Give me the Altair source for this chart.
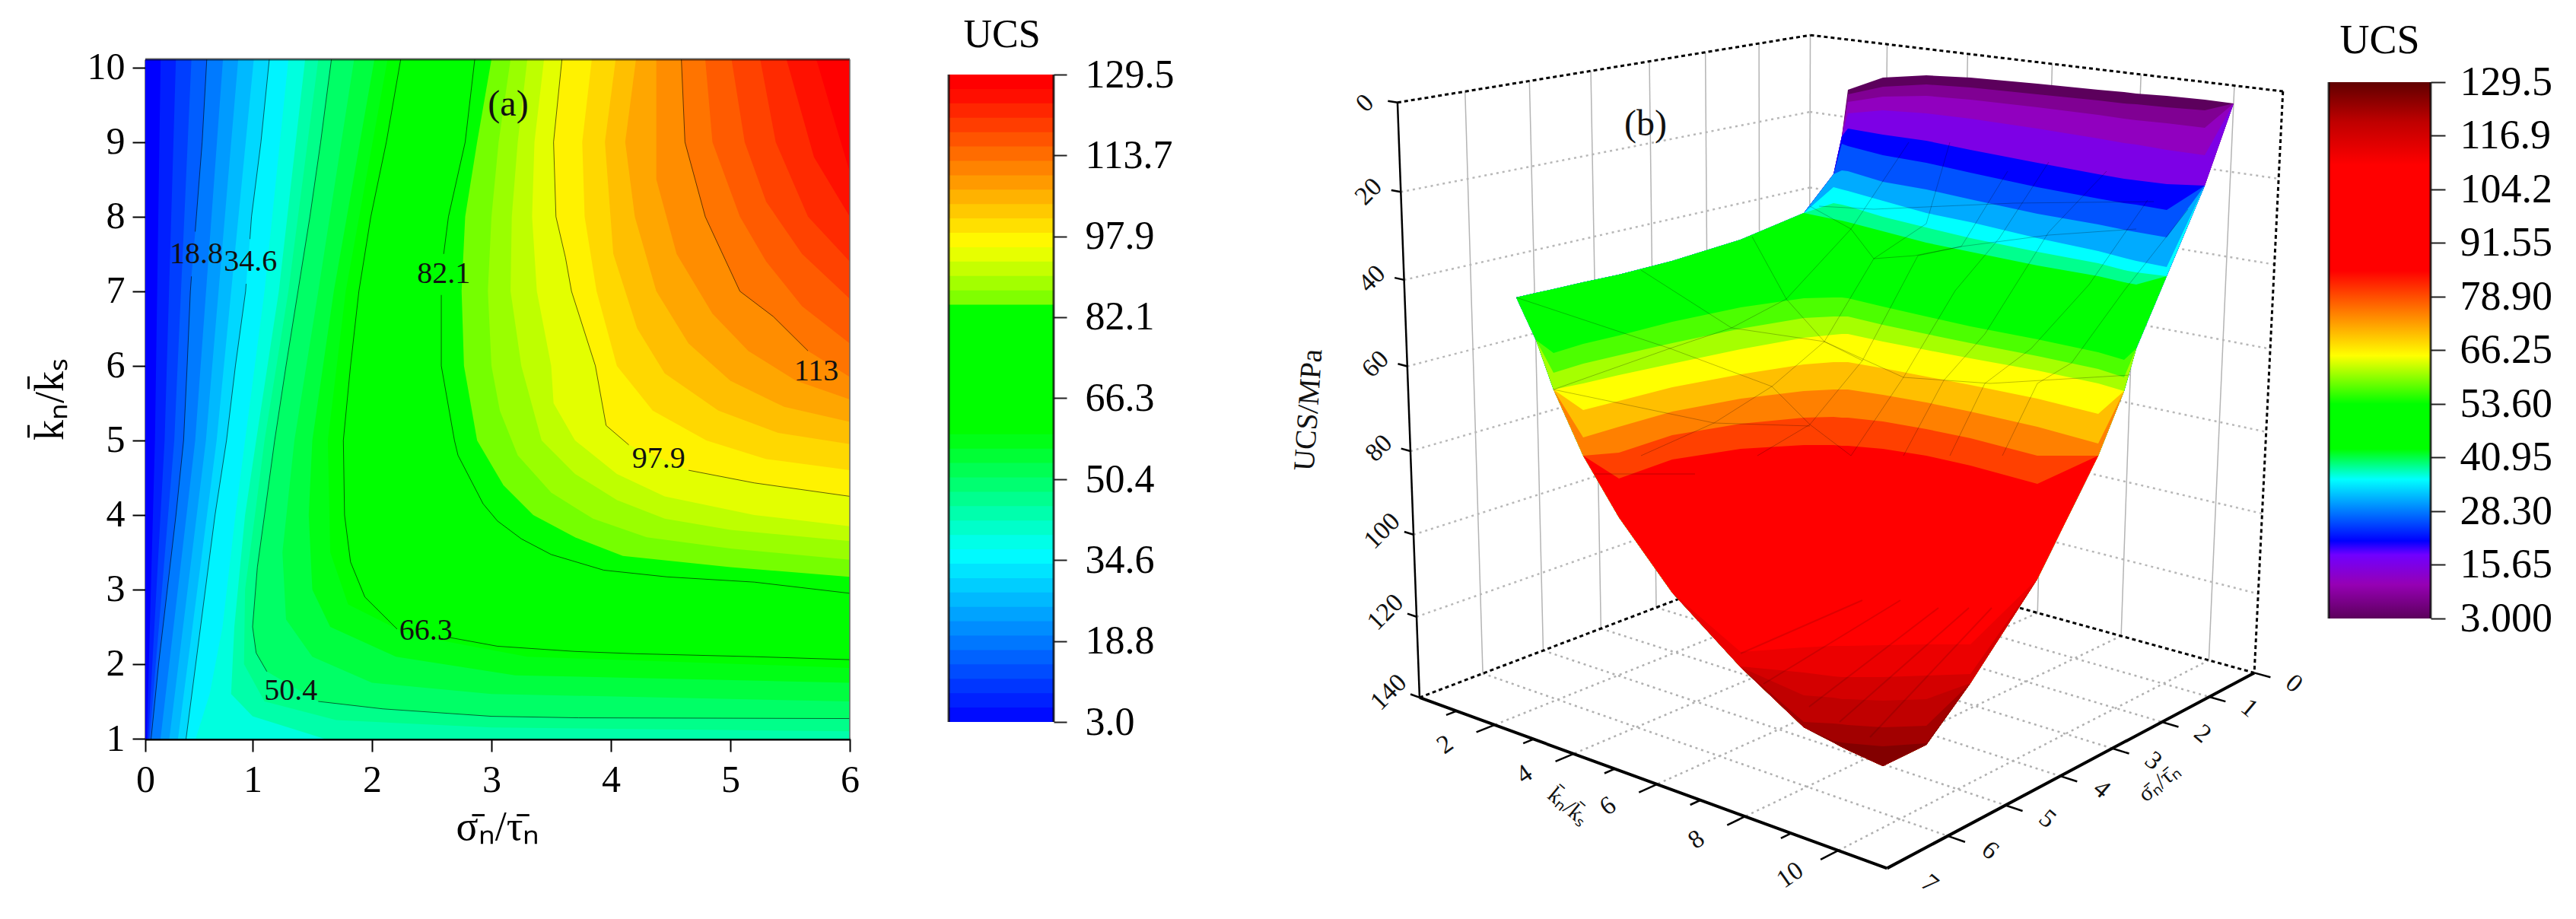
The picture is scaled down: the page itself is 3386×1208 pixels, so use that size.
import numpy as np
import pandas as pd
import altair as alt

SERIF = "Liberation Serif"

# ---------- panel (a): iso-UCS curves, (k ratio, sigma ratio)
ISO_A = {
    3.0: [(1, 0), (10.11, 0)],
    7: [(1, .014), (5, .09), (10.11, .143)],
    11: [(1, .027), (5, .18), (10.11, .285)],
    15: [(1, .04), (5, .27), (10.11, .43)],
    18.8: [(1, .054), (2, .124), (3, .205), (4, .286), (5, .357), (6, .39), (7, .42), (7.2, .43), (7.8, .465), (8, .476), (9, .53), (10.11, .573)],
    23: [(1, .142), (5, .465), (10.11, .724)],
    27: [(1, .224), (5, .565), (10.11, .866)],
    31: [(1, .305), (5, .665), (10.11, 1.01)],
    34.6: [(1, .38), (2, .47), (3, .56), (4, .65), (5, .757), (6, .84), (7, .935), (7.1, .94), (7.7, .975), (8, .99), (9, 1.07), (10.11, 1.14)],
    39: [(1, .47), (1.6, .6), (2.5, .72), (4, .84), (5, .93), (7, 1.1), (10.11, 1.3)],
    44: [(1, 1.6), (1.3, 1.0), (1.6, .8), (2.5, .83), (4, .93), (5, 1.03), (7, 1.22), (10.11, 1.44)],
    47: [(1.1, 6), (1.15, 3), (1.25, 1.7), (1.5, 1.1), (2, .92), (3, .93), (4, 1.02), (5, 1.1), (7, 1.3), (10.11, 1.55)],
    50.4: [(1.27, 6), (1.28, 3.73), (1.3, 3), (1.4, 2.09), (1.5, 1.55), (1.9, 1.12), (2.15, 1.03), (2.5, 1.0), (3.3, 1.04), (4, 1.1), (5, 1.185), (6, 1.28), (7, 1.38), (8, 1.48), (9, 1.57), (10.11, 1.66)],
    54: [(1.5, 6), (1.6, 3), (1.75, 2), (2.1, 1.5), (2.6, 1.28), (3.5, 1.25), (5, 1.35), (7, 1.55), (10.11, 1.85)],
    58: [(1.75, 6), (1.85, 3.2), (2.1, 2.2), (2.5, 1.65), (3, 1.5), (4, 1.47), (5, 1.5), (7, 1.68), (10.11, 2.02)],
    62: [(1.95, 6), (2.1, 3.3), (2.4, 2.3), (2.8, 1.8), (3.5, 1.65), (5, 1.63), (7, 1.78), (10.11, 2.13)],
    66.3: [(2.06, 6), (2.10, 5.2), (2.14, 4.2), (2.17, 3.7), (2.24, 3.05), (2.36, 2.64), (2.47, 2.21), (2.9, 1.94), (3.37, 1.82), (4, 1.77), (5, 1.76), (6, 1.82), (7, 1.89), (8, 1.99), (9, 2.12), (10.11, 2.24)],
    82.1: [(2.95, 6), (3.1, 5.2), (3.17, 4.47), (3.26, 3.94), (3.47, 3.5), (3.68, 3.25), (3.92, 3.05), (4.15, 2.93), (4.8, 2.72), (5.0, 2.69), (6, 2.58), (6.95, 2.58), (7.5, 2.6), (8, 2.64), (9, 2.78), (10.11, 2.86)],
    85: [(3.17, 6), (3.3, 5), (3.45, 4.1), (3.7, 3.7), (4, 3.35), (4.4, 3.1), (5, 2.88), (6, 2.77), (7, 2.75), (8, 2.78), (9, 2.88), (10.11, 3.0)],
    88: [(3.4, 6), (3.55, 5), (3.7, 4.3), (3.95, 3.85), (4.3, 3.5), (4.8, 3.22), (5.4, 3.07), (6, 3.0), (7, 2.97), (8, 3.0), (9, 3.06), (10.11, 3.16)],
    91: [(3.65, 6), (3.8, 5), (3.95, 4.45), (4.2, 4.05), (4.55, 3.7), (5, 3.42), (6, 3.25), (7, 3.16), (8, 3.17), (9, 3.22), (10.11, 3.3)],
    94: [(3.85, 6), (4.0, 5.2), (4.25, 4.45), (4.55, 4.05), (5, 3.7), (5.5, 3.52), (6, 3.5), (7, 3.38), (8, 3.34), (9, 3.36), (10.11, 3.44)],
    97.9: [(4.25, 6), (4.43, 5.2), (4.6, 4.65), (4.94, 4.15), (5.2, 3.96), (6, 3.87), (7, 3.67), (7.45, 3.62), (8, 3.54), (9, 3.52), (10.11, 3.59)],
    101: [(4.6, 6), (4.75, 5.3), (5, 4.8), (5.4, 4.35), (6, 4.05), (7, 3.88), (8, 3.78), (9, 3.76), (10.11, 3.84)],
    104: [(4.95, 6), (5.1, 5.4), (5.4, 4.9), (5.9, 4.45), (6.5, 4.22), (7.5, 4.02), (9, 3.95), (10.11, 4.04)],
    107: [(5.25, 6), (5.45, 5.45), (5.8, 5.0), (6.3, 4.65), (7, 4.38), (8, 4.2), (9, 4.12), (10.11, 4.21)],
    110: [(5.55, 6), (5.8, 5.55), (6.2, 5.15), (6.7, 4.85), (7.5, 4.55), (8.5, 4.38), (10.11, 4.38)],
    113: [(5.85, 6), (6.2, 5.65), (6.66, 5.36), (7, 5.08), (8, 4.79), (9, 4.62), (10.11, 4.59)],
    116: [(6.3, 6), (6.8, 5.6), (7.4, 5.3), (8, 5.08), (9, 4.85), (10.11, 4.79)],
    119: [(6.9, 6), (7.5, 5.6), (8.2, 5.3), (9, 5.12), (10.11, 5.01)],
    122: [(7.4, 6), (8, 5.65), (9, 5.38), (10.11, 5.25)],
    125: [(8, 6), (8.8, 5.7), (10.11, 5.47)],
    127: [(8.6, 6), (9.4, 5.85), (10.11, 5.72)],
}
# contour lines that are drawn, with the k-range hidden behind their label
LINES_A = {18.8: (7.2, 7.8), 34.6: (7.1, 7.7), 50.4: (1.5, 1.9), 66.3: (2.36, 2.47), 82.1: (6.95, 7.5), 97.9: (4.6, 4.94), 113: (5.85, 6.2)}
LABELS_A = [("18.8", .476, 7.5), ("34.6", .98, 7.4), ("82.1", 2.6, 7.23), ("113", 5.72, 5.93),
            ("97.9", 4.4, 4.75), ("66.3", 2.45, 2.45), ("50.4", 1.32, 1.64)]
STOPS_A = [3, 36, 60, 84.4, 84.6, 96.3, 127, 129.5]
COLS_A = ["#0000ff", "#00ffff", "#00ff00", "#00ff00", "#70ff00", "#ffff00", "#ff0000", "#ff0000"]
TICKS_A = [3.0, 18.8, 34.6, 50.4, 66.3, 82.1, 97.9, 113.7, 129.5]

# ---------- panel (b): picture-plane columns and the surface outline above/below them
VX = [1995, 2021, 2044, 2083, 2130, 2200, 2290, 2373, 2412, 2423, 2431, 2477, 2534, 2592, 2680, 2760, 2794, 2810, 2850, 2900, 2938]
OUT_TOP = [392, 386, 381, 372, 362, 344, 316, 281, 230, 180, 119, 103, 100, 103, 111, 119, 122, 124, 127, 132, 137]
OUT_BOT = [392, 448, 513, 600, 681, 780, 878, 957, 977, 983, 987, 1008, 980, 899, 762, 600, 515, 459, 364, 245, 137]
F = 50   # above the surface
B = 1100  # below the surface
ISO_B = {
    3: [F] * 21,
    8: [F] * 10 + [125, 115, 112, 116, 125, 133, 137, 138, 142, 146, 150],
    12: [F] * 10 + [135, 128, 127, 132, 142, 152, 157, 159, 163, 169, 175],
    15.65: [F] * 10 + [150, 146, 150, 157, 170, 183, 189, 191, 198, 205, 213],
    21.3: [F] * 10 + [170, 178, 186, 198, 215, 230, 236, 238, 243, 249, 258],
    26: [F] * 9 + [190, 193, 205, 215, 228, 247, 262, 268, 270, 277, 285, 292],
    31: [F] * 8 + [222, 225, 226, 240, 250, 263, 282, 296, 303, 306, 313, 322, 330],
    35.8: [F] * 7 + [240, 247, 250, 252, 265, 281, 293, 314, 331, 340, 344, 352, 362, 375],
    39: [F] * 7 + [262, 268, 270, 272, 286, 300, 314, 332, 347, 356, 359, 367, 378, 390],
    43: [F] * 6 + [260, 281, 289, 291, 293, 305, 320, 332, 350, 364, 372, 375, 382, 390, 400],
    53.6: [455, 446, 438, 428, 417, 397, 378, 367, 367, 368, 369, 381, 396, 410, 429, 447, 455, 459, 470, 480, 490],
    57: [482, 472, 465, 453, 442, 424, 405, 393, 392, 392, 393, 404, 417, 430, 447, 464, 474, 478, 488, 498, 510],
    61: [510, 498, 491, 479, 468, 452, 433, 419, 417, 417, 417, 428, 440, 452, 469, 486, 497, 501, 510, 520, 530],
    65: [535, 525, 517, 505, 494, 479, 460, 445, 441, 440, 440, 450, 461, 472, 488, 505, 515, 520, 530, 540, 550],
    70: [575, 565, 556, 540, 528, 510, 493, 480, 477, 477, 477, 485, 496, 507, 525, 545, 556, 562, 572, 585, 598],
    75: [610, 600, 593, 576, 562, 542, 525, 515, 513, 513, 513, 520, 530, 542, 562, 584, 597, 603, 615, 630, 645],
    80: [650, 640, 632, 610, 596, 573, 558, 550, 549, 550, 550, 555, 565, 577, 600, 624, 638, 645, 657, 675, 690],
    85: [690, 680, 670, 645, 630, 605, 591, 586, 586, 587, 587, 591, 600, 613, 637, 664, 680, 688, 700, 720, 740],
    110: [B] * 5 + [845, 832, 822, 818, 817, 817, 815, 814, 815, 820, 830] + [B] * 5,
    113: [B] * 5 + [880, 858, 852, 850, 850, 850, 849, 848, 848, 855, 870] + [B] * 5,
    116.9: [B] * 5 + [900, 877, 885, 890, 891, 891, 891, 889, 887, 885] + [B] * 6,
    120: [B] * 6 + [910, 915, 918, 920, 920, 922, 920, 915] + [B] * 7,
    123: [B] * 7 + [950, 952, 953, 954, 957, 955, 950] + [B] * 7,
    126: [B] * 8 + [975, 977, 978, 982, 978, 970] + [B] * 7,
}
MESH = [
    [(2511, 188), (2435, 302), (2350, 394), (2278, 432), (2197, 459), (2044, 513)],
    [(2565, 188), (2534, 295), (2465, 341), (2400, 450), (2331, 509), (2255, 557), (2159, 600)],
    [(2641, 226), (2580, 325), (2523, 337), (2450, 475), (2381, 559), (2312, 600)],
    [(2695, 214), (2630, 314), (2572, 383), (2504, 497), (2435, 600)],
    [(2771, 226), (2695, 306), (2611, 440), (2557, 501), (2504, 600)],
    [(2825, 264), (2748, 375), (2672, 459), (2611, 505), (2565, 600)],
    [(2878, 276), (2794, 383), (2725, 478), (2680, 505), (2634, 600)],
    [(1995, 392), (2197, 459), (2331, 509), (2381, 559), (2435, 600)],
    [(2159, 356), (2278, 432), (2400, 450), (2504, 497), (2618, 505), (2802, 494)],
    [(2305, 312), (2350, 394), (2400, 450), (2450, 475)],
    [(2381, 272), (2435, 302), (2465, 341), (2519, 337), (2580, 325), (2695, 310), (2810, 302)],
    [(2393, 272), (2465, 276), (2649, 268), (2833, 266)],
    [(2044, 513), (2255, 557), (2381, 561)],
    [(2098, 624), (2230, 624)],
]
STREAKS = [[(2590, 800), (2420, 950)], [(2620, 800), (2460, 970)], [(2550, 800), (2380, 930)],
           [(2500, 790), (2320, 900)], [(2450, 790), (2290, 860)]]
STOPS_B = [3, 11, 18, 21.3, 35.8, 43, 53.6, 65, 85, 110, 120, 129.5]
COLS_B = ["#5c005c", "#9600b4", "#7000ff", "#0000ff", "#00ffff", "#00ff00", "#00ff00", "#ffff00",
          "#ff0000", "#ff0000", "#c00000", "#600000"]
TICKS_B = [3.0, 15.65, 28.3, 40.95, 53.6, 66.25, 78.9, 91.55, 104.2, 116.9, 129.5]

# box corners: (sigma, k, UCS) and where they sit on the picture plane
BOX = [((7, 0, 0), (1838, 135)), ((0, 0, 0), (2383, 47)), ((0, 11, 0), (3002, 122)),
       ((7, 0, 140), (1870, 918)), ((0, 0, 140), (2377, 724)), ((0, 11, 140), (2967, 884)),
       ((7, 11, 140), (2481, 1143))]

W_A, H = 926, 893
W_B = 1416
W_C1, W_C2 = 138, 134

rows = []
for M, (s, v) in enumerate(BOX):
    X = [*s, 1]
    rows.append([*X, 0, 0, 0, 0, *[-v[0] * c for c in X]])
    rows.append([0, 0, 0, 0, *X, *[-v[1] * c for c in X]])
A_ = np.array(rows, float)
_, _, Vh = np.linalg.svd(A_ / np.abs(A_).max(axis=0, keepdims=True))
P = (Vh[-1] / np.abs(A_).max(axis=0)).reshape(3, 4)


def proj(s, k, z):
    h = P @ np.array([s, k, z, 1.0])
    return h[0] / h[2], h[1] / h[2]


def cmap(stops, cols, v):
    rgb = [[int(c[i:i + 2], 16) for i in (1, 3, 5)] for c in cols]
    return "#" + "".join(f"{int(round(np.interp(v, stops, [r[j] for r in rgb]))):02x}" for j in range(3))


# ------ scales
xa = alt.Scale(domain=[0, 1, 6], range=[0, 141, W_A])
ya = alt.Scale(domain=[1, 10.11], range=[H, 0])
vx = alt.Scale(domain=[1517, 1517 + W_B], range=[0, W_B])
vy = alt.Scale(domain=[79, 79 + H], range=[0, H])

# ------ panel (a)
band_rows = []
for lev, pts in ISO_A.items():
    for k, s in pts:
        band_rows.append(dict(name=f"{lev:08.2f}", hex=cmap(STOPS_A, COLS_A, lev), k=k, s=s, right=6))
bands = pd.DataFrame(band_rows)

line_rows = []
for lev, (lo, hi) in LINES_A.items():
    i = 0
    for k, s in ISO_A[lev]:
        if lo < k < hi:
            continue
        seg_name = "up" if k >= hi else "low"
        line_rows.append(dict(group=f"{lev}{seg_name}", k=k, s=s, i=i))
        i += 1
lines_a = pd.DataFrame(line_rows)

ax_common = dict(labelFont=SERIF, titleFont=SERIF, labelColor="black", titleColor="black", grid=False,
                 tickColor="black", domainColor="black", titleFontWeight="normal", labelFontSize=50,
                 titleFontSize=54, tickSize=17, tickWidth=2, format="d")
a_band = alt.Chart(bands).mark_area(orient="horizontal").encode(
    y=alt.Y("k:Q", scale=ya, axis=alt.Axis(values=list(range(1, 11)), title="k\u0304\u2099/k\u0304\u209b", titlePadding=21,
                                             labelPadding=10, domainWidth=2, **ax_common)),
    x=alt.X("s:Q", scale=xa, axis=alt.Axis(values=list(range(0, 7)), title="\u03c3\u0304\u2099/\u03c4\u0304\u2099", titlePadding=10,
                                             labelPadding=12, domainWidth=4, labelFlush=False, **ax_common)),
    x2="right:Q",
    color=alt.Color("hex:N", scale=None),
    detail="name:N",
)
a_lines = alt.Chart(lines_a).mark_line(color="black", strokeWidth=1, opacity=0.6).encode(
    x=alt.X("s:Q", scale=xa), y=alt.Y("k:Q", scale=ya), detail="group:N", order="i:Q")
a_top = alt.Chart(pd.DataFrame({"s": [0], "s2": [6], "k": [10.11]})).mark_rule(color="black", strokeWidth=3, opacity=.6).encode(
    x=alt.X("s:Q", scale=xa), x2="s2:Q", y=alt.Y("k:Q", scale=ya))
a_right = alt.Chart(pd.DataFrame({"s": [6], "k": [1], "k2": [10.11]})).mark_rule(color="#666", strokeWidth=1.5).encode(
    x=alt.X("s:Q", scale=xa), y=alt.Y("k:Q", scale=ya), y2="k2:Q")
lab_a = pd.DataFrame(LABELS_A, columns=["t", "s", "k"])
a_text = alt.Chart(lab_a).mark_text(font=SERIF, fontSize=40, color="#111").encode(
    x=alt.X("s:Q", scale=xa), y=alt.Y("k:Q", scale=ya), text="t:N")
a_tag = alt.Chart(pd.DataFrame({"t": ["(a)"], "s": [3.14], "k": [9.5]})).mark_text(font=SERIF, fontSize=48, color="#111").encode(
    x=alt.X("s:Q", scale=xa), y=alt.Y("k:Q", scale=ya), text="t:N")
panel_a = alt.layer(a_band, a_lines, a_top, a_right, a_text, a_tag).properties(width=W_A, height=H)


# ------ colour bars
def colorbar(lo, hi, width, ticks, fmt, title, tx, ty, pad, size, tick, fill=None, stepped=False):
    y = alt.Scale(domain=[lo, hi], range=[H, 0])
    ax = alt.Axis(orient="right", values=ticks, format=fmt, title=None, domain=False, grid=False, tickSize=tick, tickWidth=2,
                  tickColor="#222", labelFont=SERIF, labelFontSize=size, labelColor="black", labelPadding=pad,
                  labelOverlap=False, labelFlush=False)
    if stepped:
        steps = np.linspace(3, 129.5, 46)[::-1]
        df = pd.DataFrame({"top": steps[:-1], "bot": 3.0,
                           "hex": [cmap(STOPS_A, COLS_A, (a + b) / 2) for a, b in zip(steps[:-1], steps[1:])]})
        body = alt.Chart(df).mark_rect().encode(
            y=alt.Y("top:Q", scale=y, axis=ax), y2="bot:Q", x=alt.value(0), x2=alt.value(width),
            color=alt.Color("hex:N", scale=None))
    else:
        body = alt.Chart(pd.DataFrame({"top": [129.5], "bot": [3.0]})).mark_rect(fill=fill).encode(
            y=alt.Y("top:Q", scale=y, axis=ax), y2="bot:Q", x=alt.value(0), x2=alt.value(width))
    edge = pd.DataFrame({"top": [129.5], "bot": [3.0]})
    left = alt.Chart(edge).mark_rule(color="black", strokeWidth=3, opacity=.75).encode(
        y=alt.Y("top:Q", scale=y), y2="bot:Q", x=alt.value(0))
    right = alt.Chart(edge).mark_rule(color="black", strokeWidth=3, opacity=.75).encode(
        y=alt.Y("top:Q", scale=y), y2="bot:Q", x=alt.value(width))
    t = alt.Chart(pd.DataFrame({"t": [title]})).mark_text(font=SERIF, fontSize=size, color="black").encode(
        x=alt.value(tx), y=alt.value(ty), text="t:N")
    return alt.layer(body, left, right, t).properties(width=width, height=H)


u_a = 126.5 / 851
cb_a = colorbar(3 - 22 * u_a, 129.5 + 20 * u_a, W_C1, TICKS_A, ".1f", "UCS", 70, -32, 24, 52, 17, stepped=True)
u_b = 126.5 / 705
grad = alt.Gradient(gradient="linear", x1=0, x2=0, y1=1, y2=0,
                    stops=[alt.GradientStop(offset=(v - 3) / 126.5, color=c) for v, c in zip(STOPS_B, COLS_B)])
cb_b = colorbar(3 - 158 * u_b, 129.5 + 30 * u_b, W_C2, TICKS_B, ".4r", "UCS", 67, -24, 19, 54, 19, fill=grad)

# ------ panel (b)
seg_rows = []


def seg(style, p0, p1):
    name = f"{style}{len(seg_rows)}"
    for i, p in enumerate((p0, p1)):
        x, y = proj(*p)
        seg_rows.append(dict(style=style, name=name, x=x, y=y, i=i))


for s in range(1, 7):
    seg("wallv", (s, 0, 0), (s, 0, 140))
    seg("floor", (s, 0, 140), (s, 11, 140))
for k in range(2, 11, 2):
    seg("wallv", (0, k, 0), (0, k, 140))
    seg("floor", (0, k, 140), (7, k, 140))
seg("wallv", (0, 0, 0), (0, 0, 140))
for z in range(20, 140, 20):
    seg("wallh", (7, 0, z), (0, 0, z))
    seg("wallh", (0, 0, z), (0, 11, z))
seg("edge", (7, 0, 0), (0, 0, 0))
seg("edge", (0, 0, 0), (0, 11, 0))
seg("edge", (0, 11, 0), (0, 11, 140))
seg("edge", (7, 0, 140), (0, 0, 140))
seg("edge", (0, 0, 140), (0, 11, 140))
seg("axis", (7, 0, 0), (7, 0, 140))
seg("axisb", (7, 0, 140), (7, 11, 140))
seg("axisb", (7, 11, 140), (0, 11, 140))
for z in range(0, 160, 20):
    seg("axis", (7, 0, z), (7, -.25, z))
for k in range(1, 11):
    seg("axis", (7, k, 140), (7 + (.28 if k % 2 == 0 else .16), k, 140))
for s in range(0, 7):
    seg("axis", (s, 11, 140), (s, 11.35, 140))
segs = pd.DataFrame(seg_rows)


def seg_layer(style, **kw):
    return alt.Chart(segs[segs["style"] == style]).mark_line(**kw).encode(
        x=alt.X("x:Q", scale=vx, axis=None), y=alt.Y("y:Q", scale=vy, axis=None), detail="name:N", order="i:Q")


grid_layers = [
    seg_layer("wallv", color="#b4b4b4", strokeWidth=1.5),
    seg_layer("wallh", color="#b8b8b8", strokeWidth=2.5, strokeDash=[3, 5]),
    seg_layer("floor", color="#b0b0b0", strokeWidth=2.5, strokeDash=[3, 5]),
    seg_layer("edge", color="black", strokeWidth=3, strokeDash=[5, 4]),
    seg_layer("axis", color="black", strokeWidth=2.5),
    seg_layer("axisb", color="black", strokeWidth=4),
]

top_arr, bot_arr = np.array(OUT_TOP, float), np.array(OUT_BOT, float)
surf = []
for lev, ys in ISO_B.items():
    c = np.clip(np.array(ys, float), top_arr, bot_arr)
    for x, y, b in zip(VX, c, bot_arr):
        surf.append(dict(name=f"{lev:08.2f}", hex=cmap(STOPS_B, COLS_B, lev), x=x, y=y, bot=b))
surf = pd.DataFrame(surf)
b_surface = alt.Chart(surf).mark_area().encode(
    x=alt.X("x:Q", scale=vx, axis=None), y=alt.Y("y:Q", scale=vy, axis=None), y2="bot:Q",
    color=alt.Color("hex:N", scale=None), detail="name:N")


def poly_df(polys):
    return pd.DataFrame([dict(x=x, y=y, n=n, i=i) for n, p in enumerate(polys) for i, (x, y) in enumerate(p)])


b_mesh = alt.Chart(poly_df(MESH)).mark_line(color="black", strokeWidth=1, opacity=.25).encode(
    x=alt.X("x:Q", scale=vx, axis=None), y=alt.Y("y:Q", scale=vy, axis=None), detail="n:N", order="i:Q")
b_streak = alt.Chart(poly_df(STREAKS)).mark_line(color="black", strokeWidth=2, opacity=.12).encode(
    x=alt.X("x:Q", scale=vx, axis=None), y=alt.Y("y:Q", scale=vy, axis=None), detail="n:N", order="i:Q")

tick_text = []
for z in range(0, 160, 20):
    x, y = proj(7, -.85, z)
    tick_text.append(dict(t=str(z), x=x, y=y + 8, a=315))
for k in range(2, 12, 2):
    x, y = proj(7.75, k, 140)
    tick_text.append(dict(t=str(k), x=x, y=y, a=325))
for s in range(0, 8):
    x, y = proj(s, 11.85, 140)
    tick_text.append(dict(t=str(s), x=x, y=y, a=40))
tick_text = pd.DataFrame(tick_text)
b_ticks = alt.Chart(tick_text).mark_text(font=SERIF, fontSize=34, color="#111").encode(
    x=alt.X("x:Q", scale=vx, axis=None), y=alt.Y("y:Q", scale=vy, axis=None), text="t:N", angle=alt.Angle("a:Q", scale=None))

titles_b = pd.DataFrame([
    dict(t="UCS/MPa", x=1722, y=540, a=274, fs=39),
    dict(t="k\u0304\u2099/k\u0304\u209b", x=2063, y=1061, a=40, fs=30),
    dict(t="\u03c3\u0304\u2099/\u03c4\u0304\u2099", x=2840, y=1030, a=320, fs=30),
    dict(t="(b)", x=2165, y=165, a=0, fs=48),
])
b_titles = alt.Chart(titles_b).mark_text(font=SERIF, color="#111").encode(
    x=alt.X("x:Q", scale=vx, axis=None), y=alt.Y("y:Q", scale=vy, axis=None), text="t:N",
    angle=alt.Angle("a:Q", scale=None), size=alt.Size("fs:Q", scale=None))

panel_b = alt.layer(*grid_layers, b_surface, b_streak, b_mesh, b_ticks, b_titles).properties(width=W_B, height=H)

chart = alt.hconcat(panel_a, cb_a, panel_b, cb_b, spacing=130, bounds="flush").properties(
    padding={"left": 31, "top": 12, "right": 0, "bottom": 0}, background="white"
).configure_view(stroke="transparent", strokeWidth=0)

chart.save("out.html", embed_options={"renderer": "svg", "actions": False})
